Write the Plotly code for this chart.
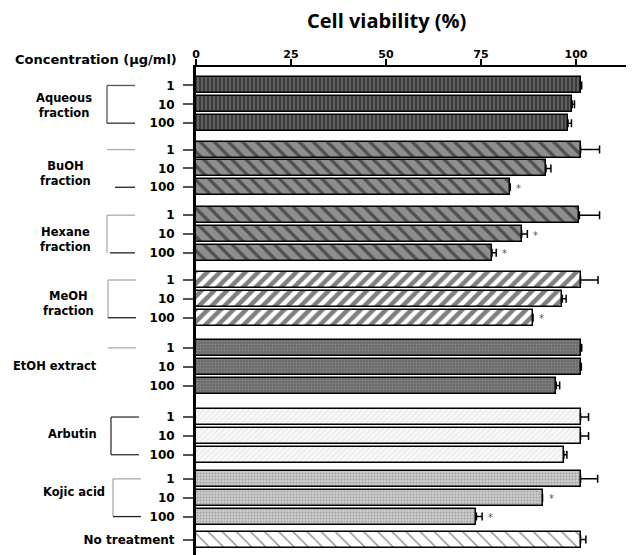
import plotly.graph_objects as go

# ---------------- data ----------------
concentrations = ["1", "10", "100"]

aqueous_viab = [101.2, 99.0, 97.9]
aqueous_err = [0.3, 0.6, 0.9]
aqueous_sig = [False, False, False]

buoh_viab = [101.2, 92.1, 82.7]
buoh_err = [5.0, 1.3, 0.0]
buoh_sig = [False, False, True]

hexane_viab = [100.9, 85.7, 77.9]
hexane_err = [5.3, 1.5, 1.1]
hexane_sig = [False, True, True]

meoh_viab = [101.2, 96.4, 88.7]
meoh_err = [4.6, 1.0, 0.0]
meoh_sig = [False, False, True]

etoh_viab = [101.2, 101.2, 94.8]
etoh_err = [0.3, 0.2, 0.9]
etoh_sig = [False, False, False]

arbutin_viab = [101.2, 101.2, 96.8]
arbutin_err = [2.1, 2.1, 0.8]
arbutin_sig = [False, False, False]

kojic_viab = [101.2, 91.2, 73.8]
kojic_err = [4.5, 0.0, 1.5]
kojic_sig = [False, True, True]

notreat_viab = [101.2]
notreat_err = [1.4]
notreat_sig = [False]

x_ticks = [0, 25, 50, 75, 100]

# ---------------- layout / style constants ----------------
OFF = 8                      # page body margin of the browser
W, H = 634 - OFF, 555 - OFF
ML, MT = 196 - OFF, 67 - OFF
PW = W - ML
PH = H - MT
PX_PER_UNIT = 3.80
STEP_PX = 18.85
Y_TOP = -0.98
BAR_W = 0.85
GROUP_GAP = [0, 0.40, 0.48, 0.44, 0.60, 0.67, 0.28, 0.22]

BOLD = dict(family="DejaVu Sans", color="black", weight="bold")

groups = [
    dict(name="Aqueous fraction", label="Aqueous<br>fraction", dy=-1, cx=64,
         v=aqueous_viab, e=aqueous_err, s=aqueous_sig, ticks=concentrations,
         pat=dict(shape="|", fgcolor="#8c8c8c", bgcolor="#3c3c3c", size=4, solidity=0.45),
         br=dict(x=107, vert="#555", top="#555", bot="#333", bx0=107)),
    dict(name="BuOH fraction", label="BuOH<br>fraction", dy=-5, cx=65,
         v=buoh_viab, e=buoh_err, s=buoh_sig, ticks=concentrations,
         pat=dict(shape="\\", fgcolor="#111111", bgcolor="#8e8e8e", size=10, solidity=0.32),
         br=dict(x=107, vert=None, top="#aaa", bot="#222", bx0=115)),
    dict(name="Hexane fraction", label="Hexane<br>fraction", dy=-5, cx=65,
         v=hexane_viab, e=hexane_err, s=hexane_sig, ticks=concentrations,
         pat=dict(shape="\\", fgcolor="#111111", bgcolor="#8e8e8e", size=10, solidity=0.32),
         br=dict(x=107, vert="#aaa", top="#aaa", bot="#222", bx0=110)),
    dict(name="MeOH fraction", label="MeOH<br>fraction", dy=-5, cx=68,
         v=meoh_viab, e=meoh_err, s=meoh_sig, ticks=concentrations,
         pat=dict(shape="/", fgcolor="#000000", bgcolor="#ffffff", size=9, solidity=0.5),
         br=dict(x=108, vert="#aaa", top="#aaa", bot="#222", bx0=108)),
    dict(name="EtOH extract", label="EtOH extract", dy=1, cx=55,
         v=etoh_viab, e=etoh_err, s=etoh_sig, ticks=concentrations,
         pat=dict(shape=".", fgcolor="#a0a0a0", bgcolor="#6a6a6a", size=3, solidity=0.35),
         br=dict(x=108, vert=None, top="#aaa", bot=None, bx0=108)),
    dict(name="Arbutin", label="Arbutin", dy=2, cx=72,
         v=arbutin_viab, e=arbutin_err, s=arbutin_sig, ticks=concentrations,
         pat=dict(shape="/", fgcolor="#c4c4c4", bgcolor="#f7f7f7", size=4, solidity=0.2),
         br=dict(x=111, vert="#333", top="#333", bot="#333", bx0=111)),
    dict(name="Kojic acid", label="Kojic acid", dy=6, cx=74,
         v=kojic_viab, e=kojic_err, s=kojic_sig, ticks=concentrations,
         pat=dict(shape=".", fgcolor="#7a7a7a", bgcolor="#cdcdcd", size=3, solidity=0.4),
         br=dict(x=113, vert="#aaa", top="#aaa", bot="#222", bx0=113)),
    dict(name="No treatment", label=None, dy=0, cx=0,
         v=notreat_viab, e=notreat_err, s=notreat_sig, ticks=["No treatment"],
         pat=dict(shape="\\", fgcolor="#222222", bgcolor="#ffffff", size=10, solidity=0.15),
         br=None),
]


def px2paper_x(px):
    # px measured in the reference picture
    return (px - OFF - ML) / PW


fig = go.Figure()
tickvals, ticktext = [], []
shapes, annotations = [], []
pos = 0.0
for gi, g in enumerate(groups):
    pos += GROUP_GAP[gi]
    ys = []
    for _ in g["v"]:
        ys.append(pos)
        pos += 1
    tickvals += ys
    ticktext += g["ticks"]
    fig.add_trace(go.Bar(
        x=g["v"], y=ys, orientation="h", width=BAR_W, name=g["name"],
        marker=dict(color=g["pat"]["bgcolor"], line=dict(color="black", width=1.5),
                    pattern=g["pat"]),
        error_x=dict(type="data", symmetric=False, array=g["e"], arrayminus=[0] * len(g["e"]),
                     color="black", thickness=1.5, width=4),
        showlegend=False,
    ))
    # significance marks
    for v, e, s, y in zip(g["v"], g["e"], g["s"], ys):
        if s:
            annotations.append(dict(x=v + e, y=y, xref="x", yref="y", text="*",
                                    showarrow=False, xanchor="left", xshift=4, yshift=-1,
                                    font=dict(family="DejaVu Sans", size=10, color="#555")))
    # group label
    mid = ys[len(ys) // 2]
    if g["label"]:
        annotations.append(dict(x=px2paper_x(g["cx"]), y=mid, xref="paper", yref="y",
                                text=g["label"], showarrow=False, xanchor="center",
                                yanchor="middle", yshift=g["dy"], align="center",
                                font=dict(BOLD, size=11.5)))
    # brackets
    br = g["br"]
    if br:
        y0, y1 = ys[0], ys[-1]
        xv = px2paper_x(br["x"])
        xe = px2paper_x(br["x"] + 28)
        if br["vert"]:
            shapes.append(dict(type="line", xref="paper", yref="y", x0=xv, x1=xv, y0=y0, y1=y1,
                               line=dict(color=br["vert"], width=1.3)))
        if br["top"]:
            shapes.append(dict(type="line", xref="paper", yref="y", x0=xv, x1=xe, y0=y0, y1=y0,
                               line=dict(color=br["top"], width=1.3)))
        if br["bot"]:
            shapes.append(dict(type="line", xref="paper", yref="y",
                               x0=px2paper_x(br["bx0"]), x1=xe, y0=y1, y1=y1,
                               line=dict(color=br["bot"], width=1.3)))

# axis label
annotations.append(dict(x=px2paper_x(12.5), y=1 + (MT + OFF - 59.3) / PH, xref="paper",
                        yref="paper", text="Concentration (μg/ml)", showarrow=False,
                        xanchor="left", yanchor="middle", font=dict(BOLD, size=13)))

y_bottom = Y_TOP + PH / STEP_PX

fig.update_layout(
    width=W, height=H,
    margin=dict(l=ML, r=0, t=MT, b=0, pad=0),
    paper_bgcolor="white", plot_bgcolor="white",
    bargap=0,
    title=dict(text="Cell viability (%)", x=(386.7 - OFF) / W, y=1 - (20.5 - OFF) / H,
               xref="container", yref="container", xanchor="center", yanchor="middle",
               font=dict(family="Open Sans", size=20, color="black", weight="bold")),
    xaxis=dict(side="top", range=[0, PW / PX_PER_UNIT], tickvals=x_ticks,
               ticktext=[str(t) for t in x_ticks], ticks="outside", ticklen=6, tickwidth=1.5,
               tickcolor="black", showline=True, linecolor="black", linewidth=2,
               showgrid=False, zeroline=False, tickfont=dict(BOLD, size=11),
               ticklabelstandoff=-3),
    yaxis=dict(range=[y_bottom, Y_TOP], tickvals=tickvals, ticktext=ticktext,
               ticks="outside", ticklen=10, tickwidth=1.5, tickcolor="#555",
               showline=True, linecolor="black", linewidth=3, showgrid=False,
               zeroline=False, tickfont=dict(BOLD, size=12), ticklabelstandoff=6),
    shapes=shapes, annotations=annotations,
)

fig.write_html("out.html")
